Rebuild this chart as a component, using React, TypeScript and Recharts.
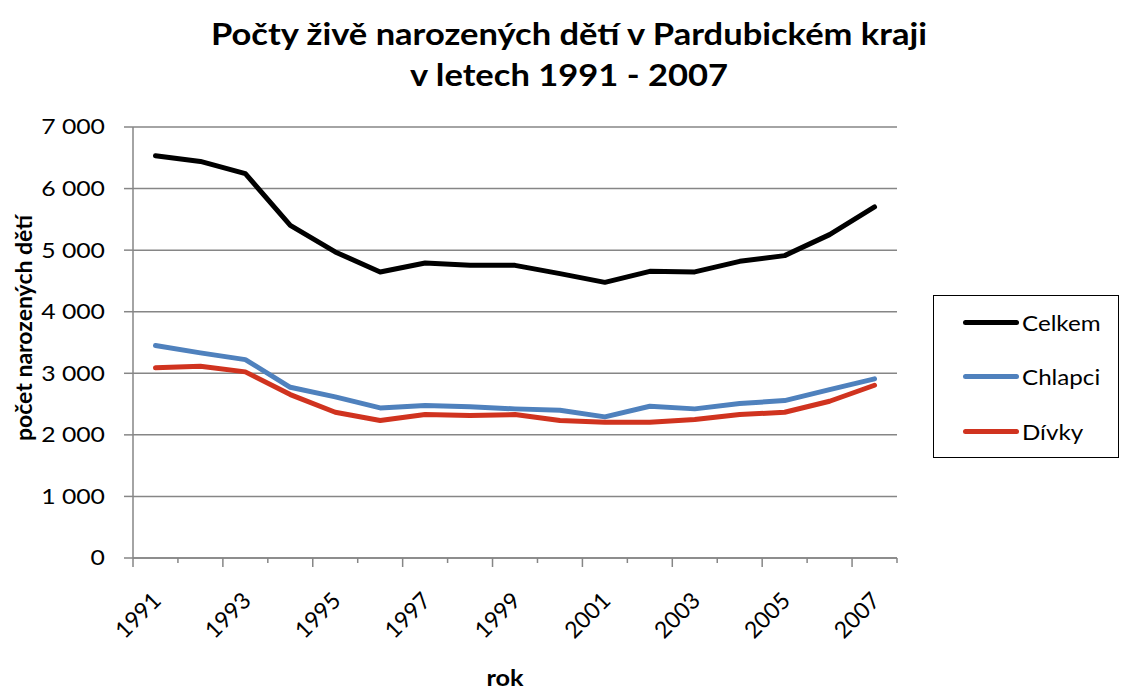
import { LineChart, Line, XAxis, YAxis, CartesianGrid } from 'recharts';

const years = ['1991', '1992', '1993', '1994', '1995', '1996', '1997', '1998', '1999', '2000', '2001', '2002', '2003', '2004', '2005', '2006', '2007'];
const celkem = [6534, 6441, 6242, 5403, 4971, 4646, 4792, 4753, 4753, 4619, 4477, 4656, 4646, 4818, 4911, 5252, 5701];
const chlapci = [3450, 3331, 3222, 2773, 2617, 2438, 2476, 2455, 2422, 2399, 2292, 2464, 2422, 2508, 2557, 2735, 2909];
const divky = [3088, 3114, 3023, 2654, 2367, 2232, 2330, 2313, 2330, 2232, 2205, 2205, 2248, 2330, 2367, 2546, 2806];
const yTicks = [0, 1000, 2000, 3000, 4000, 5000, 6000, 7000];

const series = [
  { key: 'celkem', name: 'Celkem', color: '#000000' },
  { key: 'chlapci', name: 'Chlapci', color: '#4F81BD' },
  { key: 'divky', name: 'Dívky', color: '#D0331F' },
];

const data = years.map((year, i) => ({ year, celkem: celkem[i], chlapci: chlapci[i], divky: divky[i] }));

const FONT = 'Lato, "Open Sans", sans-serif';
const GRID = '#868686';
const PLOT_LEFT = 133;
const PLOT_RIGHT = 897;
const BAND = (PLOT_RIGHT - PLOT_LEFT) / years.length;
// the reference lettering is wider than Lato, so text gets stretched a bit
const STRETCH = 1.15;

const fmt = (v: number) => (v === 0 ? '0' : `${Math.round(v / 1000)} 000`);

const YTick = (props: any) => {
  const { x, y, payload } = props;
  return (
    <text
      x={0}
      y={0}
      dy="0.355em"
      textAnchor="end"
      transform={`translate(${x} ${y}) scale(1.18 1)`}
      fontFamily={FONT}
      fontSize={21}
      fill="#000"
    >
      {fmt(payload.value)}
    </text>
  );
};

const YearTick = (props: any) => {
  const { x, y, payload } = props;
  const idx = years.indexOf(String(payload.value));
  const bx = x - BAND / 2;
  const major = idx % 2 === 0;
  return (
    <g>
      <line x1={bx} y1={y} x2={bx} y2={y + (major ? 9 : 5)} stroke={GRID} strokeWidth={1.5} />
      {idx === years.length - 1 && (
        <line x1={x + BAND / 2} y1={y} x2={x + BAND / 2} y2={y + 5} stroke={GRID} strokeWidth={1.5} />
      )}
      {major && (
        <text
          x={x + 7}
          y={y + 44}
          textAnchor="end"
          transform={`rotate(-45 ${x + 7} ${y + 44})`}
          fontFamily={FONT}
          fontSize={23}
          fill="#000"
        >
          {payload.value}
        </text>
      )}
    </g>
  );
};

const App = () => {
  return (
    <div style={{ position: 'absolute', left: 0, top: 0, width: 1123, height: 689, background: '#fff', fontFamily: FONT }}>
      <div
        style={{
          position: 'absolute',
          left: 0,
          top: 13,
          width: 1138,
          textAlign: 'center',
          fontWeight: 700,
          fontSize: 30,
          lineHeight: '41px',
          color: '#000',
          transform: `scaleX(${STRETCH})`,
          transformOrigin: '569px 0',
        }}
      >
        Počty živě narozených dětí v Pardubickém kraji
        <br />
        v letech 1991 - 2007
      </div>

      <LineChart width={1123} height={689} data={data} margin={{ top: 127, right: 1123 - PLOT_RIGHT, bottom: 31, left: 0 }}>
        <CartesianGrid vertical={false} stroke={GRID} strokeWidth={1.5} />
        <XAxis
          dataKey="year"
          interval={0}
          height={100}
          padding={{ left: BAND / 2, right: BAND / 2 }}
          axisLine={{ stroke: GRID, strokeWidth: 1.5 }}
          tickLine={false}
          tickSize={0}
          tickMargin={0}
          tick={<YearTick />}
        />
        <YAxis
          width={PLOT_LEFT}
          domain={[0, 7000]}
          ticks={yTicks}
          interval={0}
          axisLine={{ stroke: GRID, strokeWidth: 1.5 }}
          tickLine={{ stroke: GRID, strokeWidth: 1.5 }}
          tickSize={9}
          tickMargin={19}
          tick={<YTick />}
        />
        {series.map((s) => (
          <Line
            key={s.key}
            type="linear"
            dataKey={s.key}
            name={s.name}
            stroke={s.color}
            strokeWidth={5}
            strokeLinejoin="round"
            strokeLinecap="round"
            dot={false}
            activeDot={false}
            isAnimationActive={false}
          />
        ))}
      </LineChart>

      <div
        style={{
          position: 'absolute',
          left: 23,
          top: 328,
          transform: 'translate(-50%, -50%) rotate(-90deg)',
          whiteSpace: 'nowrap',
          fontWeight: 700,
          fontSize: 23,
          color: '#000',
        }}
      >
        počet narozených dětí
      </div>

      <div
        style={{
          position: 'absolute',
          left: 505,
          top: 664,
          transform: `translateX(-50%) scaleX(${STRETCH})`,
          fontWeight: 700,
          fontSize: 22,
          color: '#000',
        }}
      >
        rok
      </div>

      <div
        style={{
          position: 'absolute',
          left: 933,
          top: 295,
          width: 186,
          height: 163,
          border: '1.5px solid #000',
          boxSizing: 'border-box',
        }}
      >
        {series.map((s, i) => (
          <div key={s.key} style={{ position: 'absolute', left: 29, top: 12 + i * 54.5, display: 'flex', alignItems: 'center', height: 28 }}>
            <div style={{ width: 56, height: 5, borderRadius: 3, background: s.color }} />
            <span
              style={{
                marginLeft: 3,
                fontSize: 21,
                color: '#000',
                display: 'inline-block',
                transform: `scaleX(${STRETCH})`,
                transformOrigin: '0 50%',
                whiteSpace: 'nowrap',
              }}
            >
              {s.name}
            </span>
          </div>
        ))}
      </div>
    </div>
  );
};

export default App;
